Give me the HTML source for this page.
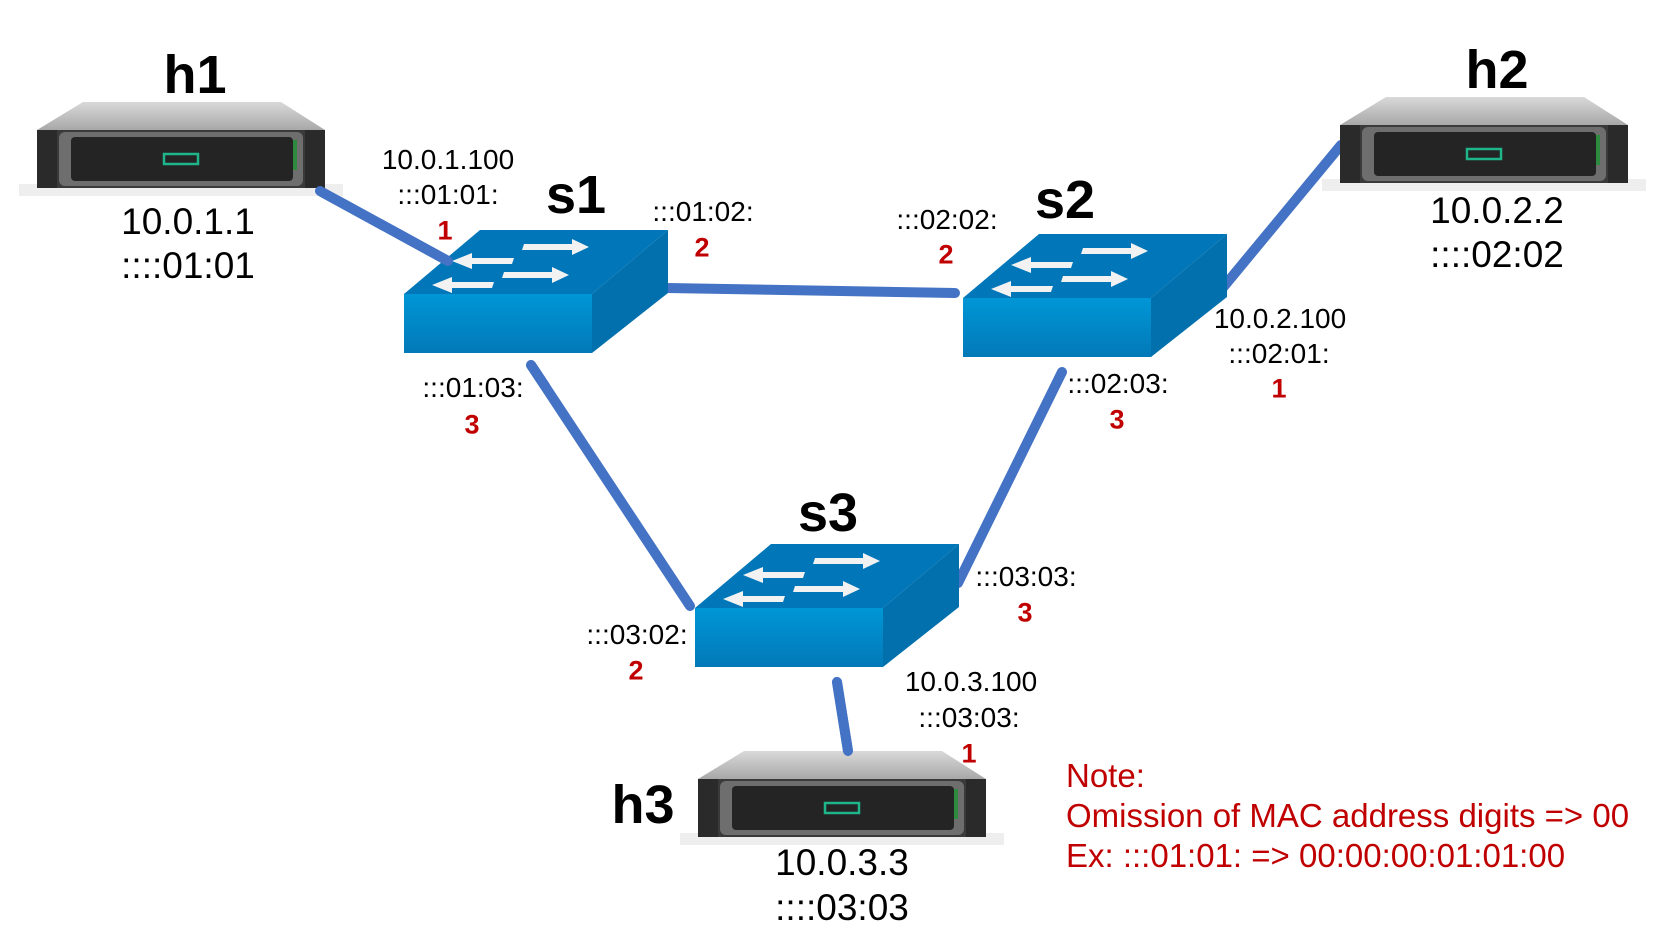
<!DOCTYPE html>
<html><head><meta charset="utf-8"><style>
html,body{margin:0;padding:0;background:#fff;}
body{width:1674px;height:947px;position:relative;overflow:hidden;font-family:"Liberation Sans",sans-serif;}
.t{position:absolute;transform:translate(-50%,-50%);white-space:nowrap;color:#000;}
.big{font-weight:bold;font-size:54px;}
.ip{font-size:37px;}
.pl{font-size:28px;}
.r{color:#C00000;font-weight:bold;font-size:27px;}
.note{position:absolute;left:1066px;top:756px;color:#C00000;font-size:33px;line-height:40px;white-space:nowrap;}
svg{position:absolute;left:0;top:0;}
</style></head><body>
<svg width="1674" height="947" viewBox="0 0 1674 947">
<defs>
<linearGradient id="top" x1="0" y1="0" x2="0" y2="1"><stop offset="0" stop-color="#d9d9d9"/><stop offset="1" stop-color="#a8a8a8"/></linearGradient>
<linearGradient id="sw" x1="0" y1="0" x2="0" y2="1"><stop offset="0" stop-color="#0096d6"/><stop offset="1" stop-color="#0279b8"/></linearGradient>
<g id="srv">
<rect x="0" y="82" width="324" height="12" fill="#eee"/>
<polygon points="64,0 262,0 306,28 18,28" fill="url(#top)"/>
<rect x="18" y="28" width="288" height="58" fill="#3a3a3a"/>
<rect x="18" y="28" width="20" height="58" fill="#2a2a2a"/>
<rect x="286" y="28" width="20" height="58" fill="#2a2a2a"/>
<rect x="40" y="30" width="244" height="54" rx="6" fill="#6e6e6e"/>
<rect x="52" y="35" width="222" height="44" rx="4" fill="#242424"/>
<rect x="145" y="52" width="34" height="10" fill="none" stroke="#1fb58a" stroke-width="2.5"/>
<rect x="274" y="38" width="4" height="30" fill="#2e8a3e"/>
</g>
<g id="sw1">
<polygon points="76,0 264,0 188,64 0,64" fill="#0176b8"/>
<polygon points="188,64 264,0 264,63 188,123" fill="#0270ad"/>
<rect x="0" y="64" width="188" height="59" fill="url(#sw)"/>
<g fill="#f2f2f2">
<polygon points="120,14 168,14 168,9 185,17 168,25 168,20 118,20"/>
<polygon points="100,42 148,42 148,37 165,45 148,53 148,48 98,48"/>
<polygon points="110,28 68,28 68,23 48,31 68,39 68,34 108,34"/>
<polygon points="90,52 48,52 48,47 28,55 48,63 48,58 88,58"/>
</g>
</g>
</defs>
<g stroke="#4472C4" stroke-width="10" stroke-linecap="round">
<line x1="320" y1="191" x2="448" y2="261"/>
<line x1="667" y1="288" x2="955" y2="293"/>
<line x1="1221" y1="290" x2="1341" y2="145"/>
<line x1="531" y1="365" x2="690" y2="606"/>
<line x1="1062" y1="372" x2="958" y2="583"/>
<line x1="837" y1="682" x2="848" y2="751"/>
</g>
<use href="#srv" x="19" y="102"/>
<use href="#srv" x="1322" y="97"/>
<use href="#srv" x="680" y="751"/>
<use href="#sw1" x="404" y="230"/>
<use href="#sw1" x="963" y="234"/>
<use href="#sw1" x="695" y="544"/>
<g stroke="#4472C4" stroke-width="10" stroke-linecap="round">
<line x1="320" y1="191" x2="448" y2="261"/>
<line x1="531" y1="365" x2="545" y2="386"/>
<line x1="837" y1="682" x2="848" y2="751"/>
</g>
</svg>
<div class="t big" style="left:195px;top:75px">h1</div>
<div class="t big" style="left:1497px;top:70px">h2</div>
<div class="t big" style="left:643px;top:805px">h3</div>
<div class="t big" style="left:576px;top:195px">s1</div>
<div class="t big" style="left:1065px;top:200px">s2</div>
<div class="t big" style="left:828px;top:513px">s3</div>
<div class="t ip" style="left:188px;top:222px">10.0.1.1</div>
<div class="t ip" style="left:188px;top:266px">::::01:01</div>
<div class="t ip" style="left:1497px;top:211px">10.0.2.2</div>
<div class="t ip" style="left:1497px;top:255px">::::02:02</div>
<div class="t ip" style="left:842px;top:863px">10.0.3.3</div>
<div class="t ip" style="left:842px;top:908px">::::03:03</div>
<div class="t pl" style="left:448px;top:160px">10.0.1.100</div>
<div class="t pl" style="left:448px;top:195px">:::01:01:</div>
<div class="t r" style="left:445px;top:231px">1</div>
<div class="t pl" style="left:703px;top:212px">:::01:02:</div>
<div class="t r" style="left:702px;top:248px">2</div>
<div class="t pl" style="left:947px;top:220px">:::02:02:</div>
<div class="t r" style="left:946px;top:255px">2</div>
<div class="t pl" style="left:1280px;top:319px">10.0.2.100</div>
<div class="t pl" style="left:1279px;top:354px">:::02:01:</div>
<div class="t r" style="left:1279px;top:389px">1</div>
<div class="t pl" style="left:473px;top:388px">:::01:03:</div>
<div class="t r" style="left:472px;top:425px">3</div>
<div class="t pl" style="left:1118px;top:384px">:::02:03:</div>
<div class="t r" style="left:1117px;top:420px">3</div>
<div class="t pl" style="left:1026px;top:577px">:::03:03:</div>
<div class="t r" style="left:1025px;top:613px">3</div>
<div class="t pl" style="left:637px;top:635px">:::03:02:</div>
<div class="t r" style="left:636px;top:671px">2</div>
<div class="t pl" style="left:971px;top:682px">10.0.3.100</div>
<div class="t pl" style="left:969px;top:718px">:::03:03:</div>
<div class="t r" style="left:969px;top:754px">1</div>
<div class="note">Note:<br>Omission of MAC address digits =&gt; 00<br>Ex: :::01:01: =&gt; 00:00:00:01:01:00</div>
</body></html>
